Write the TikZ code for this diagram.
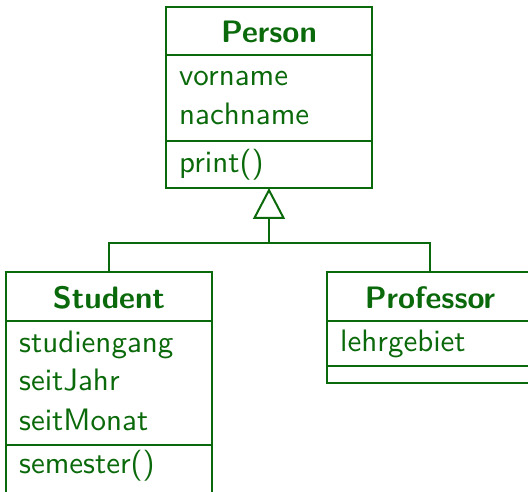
\documentclass[tikz,border=0pt]{standalone}
\usepackage{fontspec}
\setsansfont{lmsans10-regular.otf}[BoldFont=lmsans10-bold.otf]
\usetikzlibrary{arrows.meta}
\definecolor{umlgreen}{RGB}{10,105,10}
\begin{document}
\begin{tikzpicture}[x=1pt,y=-1pt,
  comp/.style={draw=umlgreen,line width=2pt,rectangle,inner sep=0pt,outer sep=0pt,minimum width=206pt,anchor=north west},
  cname/.style={text=umlgreen,font=\fontsize{31}{36}\sffamily\bfseries,anchor=base,inner sep=0pt},
  attr/.style={text=umlgreen,font=\fontsize{31}{36}\sffamily,anchor=base west,inner sep=0pt},
  conn/.style={draw=umlgreen,line width=2pt}]
\useasboundingbox (0,0) rectangle (528,492);
% Person
\node[comp,minimum height=48pt] (pn) at (166,7) {};
\node[comp,minimum height=86pt] (pa) at (166,55) {};
\node[comp,minimum height=47pt] (pm) at (166,141) {};
\node[cname] (ptitle) at (pn.center |- 0,43) {Person};
\node[attr] (p1) at (179,86) {vorname};
\node[attr] (p2) at (179,125) {nachname};
\node[attr] (p3) at (179,173) {print()};
% Student
\node[comp,minimum height=49pt] (sn) at (6,272) {};
\node[comp,minimum height=124pt] (sa) at (6,321) {};
\node[comp,minimum height=52pt] (sm) at (6,445) {};
\node[cname] (stitle) at (sn.center |- 0,308) {Student};
\node[attr] (s1) at (19,352) {studiengang};
\node[attr] (s2) at (19,390) {seitJahr};
\node[attr] (s3) at (19,430) {seitMonat};
\node[attr] (s4) at (19,473) {semester()};
% Professor
\node[comp,minimum height=49pt] (fn) at (327,272) {};
\node[comp,minimum height=45pt] (fa) at (327,321) {};
\node[comp,minimum height=17pt] (fm) at (327,366) {};
\node[cname] (ftitle) at (fn.center |- 0,308) {Professor};
\node[attr] (f1) at (340,351) {lehrgebiet};
% connectors
\coordinate (j) at (pm.south |- 0,243);
\draw[conn] (sn.north) |- (j) -| (fn.north);
\draw[conn,-{Triangle[open,length=31pt,width=32pt,line width=2pt]}] (j) -- (pm.south);
\end{tikzpicture}
\end{document}
